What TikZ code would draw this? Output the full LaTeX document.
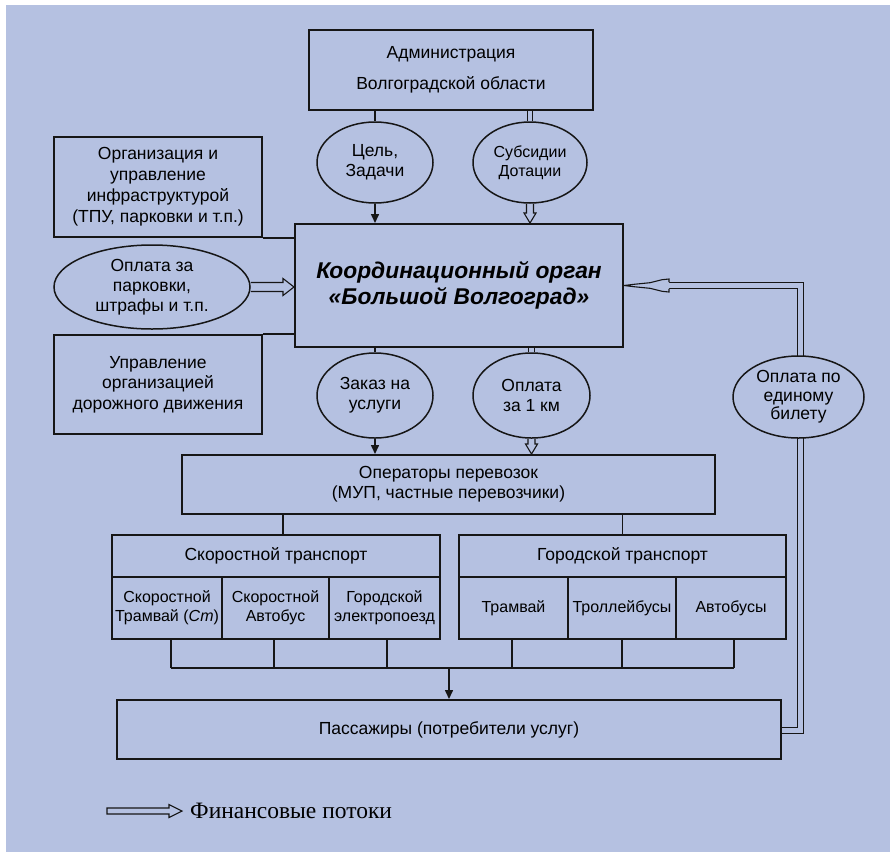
\documentclass[tikz,border=0pt]{standalone}
\usepackage{fontspec}
\setmainfont{Liberation Sans}
\newfontfamily\legfont{Liberation Serif}
\usetikzlibrary{calc,arrows.meta,shapes.geometric}
\definecolor{bg}{RGB}{181,193,225}
\definecolor{ink}{RGB}{22,22,22}
\pgfdeclarelayer{bottom}
\pgfdeclarelayer{background}
\pgfsetlayers{bottom,background,main}
\newcommand\flowdown[2]{\draw[flowline] let \p1=(#1), \p2=(#2) in
  (\x1-3.5pt,\y1) -- (\x1-3.5pt,\y2+10pt) -- (\x1-6pt,\y2+10pt) -- (\x1,\y2)
  -- (\x1+6pt,\y2+10pt) -- (\x1+3.5pt,\y2+10pt) -- (\x1+3.5pt,\y1);}
\newcommand\flowright[2]{\draw[flowline] let \p1=(#1), \p2=(#2) in
  (\x1,\y1+4.5pt) -- (\x2-11pt,\y1+4.5pt) -- (\x2-11pt,\y1+8.5pt) -- (\x2,\y1)
  -- (\x2-11pt,\y1-8.5pt) -- (\x2-11pt,\y1-4.5pt) -- (\x1,\y1-4.5pt);}
\newcommand\legarrow[2]{\draw[flowline] let \p1=(#1), \p2=(#2) in
  (\x1,\y1+3pt) -- (\x2-13pt,\y1+3pt) -- (\x2-13pt,\y1+6.5pt) -- (\x2,\y1)
  -- (\x2-13pt,\y1-6.5pt) -- (\x2-13pt,\y1-3pt) -- (\x1,\y1-3pt) -- cycle;}
\tikzset{
  box/.style={draw=ink, line width=2pt, fill=bg, inner sep=0pt, align=center,
    font=\fontsize{17.5}{21}\selectfont},
  cell/.style={box, font=\fontsize{16}{19}\selectfont},
  oval/.style={ellipse, draw=ink, line width=1.5pt, fill=bg, inner sep=0pt, align=center,
    font=\fontsize{17.5}{20}\selectfont},
  conn/.style={draw=ink, line width=1.5pt},
  tip/.style={conn, -{Triangle[width=8pt,length=9pt]}},
  dbl/.style={draw=ink, line width=1.1pt, double=bg, double distance=4.5pt},
  flowline/.style={draw=ink, line width=1.1pt, fill=bg, line join=miter},
}
\begin{document}
\begin{tikzpicture}[x=1pt,y=1pt]
\useasboundingbox (0,0) rectangle (890,-852);
\begin{pgfonlayer}{bottom}
\fill[white] (0,0) rectangle (890,-852);
\fill[bg] (6,-5) rectangle (890,-852);
\end{pgfonlayer}

% nodes
\node[box, minimum width=284pt, minimum height=80pt, font=\fontsize{17.5}{31}\selectfont]
  (admin) at (451,-70) {Администрация\\Волгоградской области};
\node[oval, minimum width=116pt, minimum height=81pt] (cel) at (375,-162.5) {Цель,\\Задачи};
\node[oval, minimum width=114pt, minimum height=81pt, font=\fontsize{16}{19}\selectfont]
  (sub) at (530,-162.5) {Субсидии\\Дотации};
\node[box, minimum width=328pt, minimum height=123pt, font=\fontsize{22.8}{26}\selectfont\bfseries\itshape]
  (koord) at (459,-285.5) {Координационный орган\\«Большой Волгоград»};
\node[box, minimum width=208pt, minimum height=100pt] (org) at (158,-187)
  {Организация и\\управление\\инфраструктурой\\(ТПУ, парковки и т.п.)};
\node[oval, minimum width=196pt, minimum height=84pt] (park) at (152,-287)
  {Оплата за\\парковки,\\штрафы и т.п.};
\node[box, minimum width=208pt, minimum height=99pt, font=\fontsize{17.5}{20.5}\selectfont]
  (upr) at (158,-384.5) {Управление\\организацией\\дорожного движения};
\node[oval, minimum width=116pt, minimum height=85pt] (zak) at (375,-395.5) {Заказ на\\услуги};
\node[oval, minimum width=117pt, minimum height=85pt] (km) at (531.5,-395.5) {Оплата\\за 1 км};
\node[oval, minimum width=131pt, minimum height=82pt, font=\fontsize{17.5}{18.5}\selectfont]
  (bil) at (798.5,-397) {Оплата по\\единому\\билету};
\node[box, minimum width=533pt, minimum height=59pt, font=\fontsize{17.5}{20}\selectfont]
  (oper) at (448.5,-484.5) {Операторы перевозок\\(МУП, частные перевозчики)};

\node[box, minimum width=328pt, minimum height=42pt] (fast) at (276,-556) {Скоростной транспорт};
\node[cell, minimum width=110pt, minimum height=62pt] (c1) at (167,-608)
  {Скоростной\\Трамвай (\textit{Ст})};
\node[cell, minimum width=107pt, minimum height=62pt] (c2) at (275.5,-608) {Скоростной\\Автобус};
\node[cell, minimum width=111pt, minimum height=62pt] (c3) at (384.5,-608) {Городской\\электропоезд};

\node[box, minimum width=327pt, minimum height=42pt] (city) at (622.5,-556) {Городской транспорт};
\node[cell, minimum width=109pt, minimum height=62pt] (c4) at (513.5,-608) {Трамвай};
\node[cell, minimum width=108pt, minimum height=62pt] (c5) at (622,-608) {Троллейбусы};
\node[cell, minimum width=110pt, minimum height=62pt] (c6) at (731,-608) {Автобусы};

\node[box, minimum width=664pt, minimum height=59pt] (pass) at (449,-729.5)
  {Пассажиры (потребители услуг)};

\node[anchor=west, inner sep=0pt, font=\legfont\fontsize{23.5}{26}\selectfont] (leg) at (190,-811)
  {Финансовые потоки};
\coordinate (lg1) at (107,-811);
\coordinate (lg2) at (182,-811);

\coordinate (bus) at (0,-668);
\coordinate (r1) at (800.5,-730.5);

% connectors
\begin{pgfonlayer}{background}
\draw[conn] (admin.south -| cel.north) -- (cel.north);
\draw[tip] (cel.south) -- (cel.south |- koord.north);
\draw[dbl] (admin.south -| sub.north) -- (sub.north);
\flowdown{sub.south}{sub.south |- koord.north}
\flowright{park.east}{park.east -| koord.west}
\draw[box] (org.south east) -- (org.south east -| koord.west);
\draw[box] (upr.north east) -- (upr.north east -| koord.west);
\draw[conn] (koord.south -| zak.north) -- (zak.north);
\draw[tip] (zak.south) -- (zak.south |- oper.north);
\draw[dbl] (koord.south -| km.north) -- (km.north);
\flowdown{km.south}{km.south |- oper.north}
\draw[conn] ([xshift=7pt]fast.north |- oper.south) -- ([xshift=7pt]fast.north);
\draw[conn] (city.north |- oper.south) -- (city.north);
\foreach \c/\s in {c1/4,c2/-1.5,c3/2.5,c4/-1.5,c5/0,c6/3}{
  \draw[conn] ([xshift=\s pt]\c.south) -- ([xshift=\s pt]\c.south |- bus);
}
\draw[conn] ([xshift=4pt]c1.south |- bus) -- ([xshift=3pt]c6.south |- bus);
\draw[tip] (pass.north |- bus) -- (pass.north);
\draw[dbl] (pass.east |- r1) -- (r1) -- (r1 |- koord.east) -- ([xshift=45pt]koord.east);
\draw[flowline] let \p1=(koord.east) in
  (\x1+45pt,\y1+3.3pt) -- (\x1+45pt,\y1+6.5pt) -- (\x1+38pt,\y1+5.8pt) -- (\x1+26pt,\y1+2.8pt)
  -- (\x1+10pt,\y1+1.2pt) -- (\x1,\y1) -- (\x1+10pt,\y1-1.2pt) -- (\x1+26pt,\y1-2.8pt)
  -- (\x1+38pt,\y1-5.8pt) -- (\x1+45pt,\y1-6.5pt) -- (\x1+45pt,\y1-3.3pt);
\legarrow{lg1}{lg2}
\end{pgfonlayer}
\end{tikzpicture}
\end{document}
